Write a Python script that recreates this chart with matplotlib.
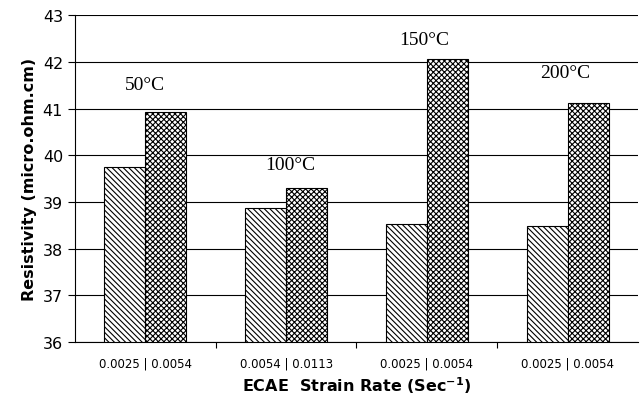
import numpy as np
import matplotlib; matplotlib.use("Agg")
import matplotlib.pyplot as plt

plt.rcParams["hatch.linewidth"] = 0.8

groups = ["0.0025 | 0.0054", "0.0054 | 0.0113", "0.0025 | 0.0054", "0.0025 | 0.0054"]
temps = ["50°C", "100°C", "150°C", "200°C"]
low_rate = [39.76, 38.88, 38.52, 38.48]
high_rate = [40.93, 39.31, 42.06, 41.13]
temp_label_y = [41.33, 39.62, 42.3, 41.6]
temp_label_dx = [0.0, 0.03, -0.02, -0.02]

fig = plt.figure(figsize=(6.4, 4.14), dpi=100)
ax = fig.add_axes([0.117, 0.171, 0.88, 0.79])

x = np.arange(len(groups))
w = 0.29
ax.bar(x - w/2, np.array(low_rate) - 36, w, bottom=36, color="white", edgecolor="black",
       hatch="\\\\\\\\\\\\", lw=0.8, zorder=3)
ax.bar(x + w/2, np.array(high_rate) - 36, w, bottom=36, color="white", edgecolor="black",
       hatch="xxxxxx", lw=0.8, zorder=3)

for i, t in enumerate(temps):
    ax.text(x[i] + temp_label_dx[i], temp_label_y[i], t, ha="center", va="bottom",
            fontsize=14, family="Liberation Serif")

ax.set_ylim(36, 43)
ax.set_xlim(-0.5, len(groups) - 0.5)
ax.set_yticks(range(36, 44))
ax.tick_params(axis="y", labelsize=11.5, length=5, direction="out", width=0.8)
ax.set_xticks(x)
ax.set_xticklabels(groups, fontsize=8.5)
ax.tick_params(axis="x", length=0, pad=10)
ax.set_xticks(np.arange(0.5, len(groups) - 0.5), minor=True)
ax.tick_params(axis="x", which="minor", length=4, direction="out", width=0.8)

ax.grid(axis="y", color="black", lw=0.8, zorder=0)
for s in ["top", "right"]:
    ax.spines[s].set_visible(False)
ax.spines["left"].set_linewidth(0.8)
ax.spines["bottom"].set_linewidth(0.8)

ax.set_ylabel("Resistivity (micro.ohm.cm)", fontsize=11.5, fontweight="bold")
ax.set_xlabel("ECAE  Strain Rate (Sec$^{\\mathbf{-1}}$)", fontsize=11.5, fontweight="bold")

fig.savefig("out.png", dpi=100)
